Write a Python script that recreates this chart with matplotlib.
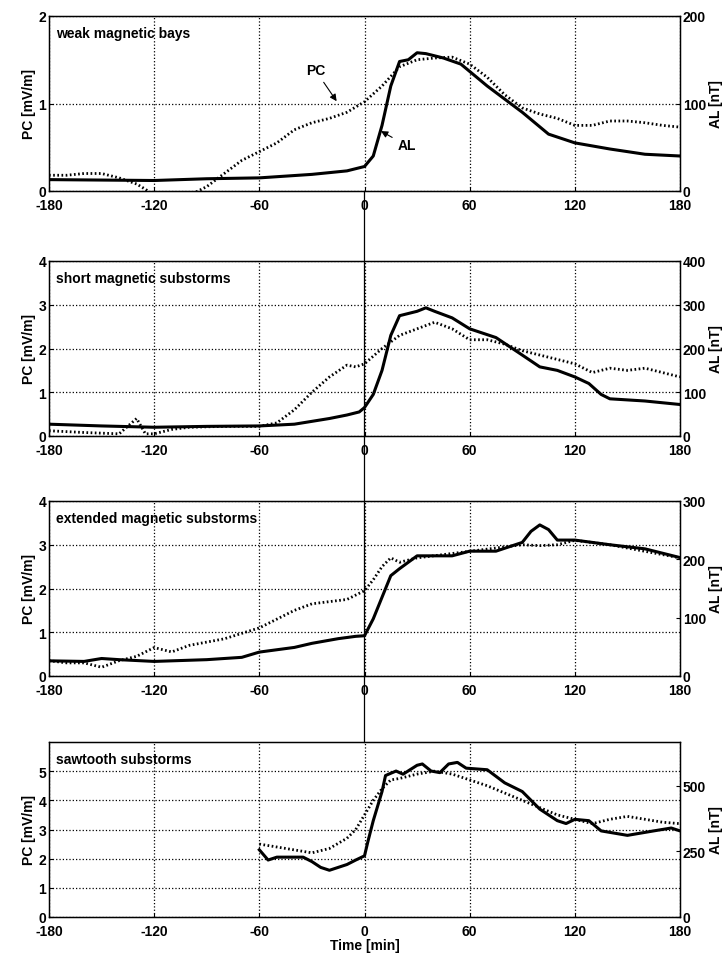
import matplotlib
matplotlib.use("Agg")
import matplotlib.pyplot as plt
from matplotlib.lines import Line2D
import numpy as np

plt.rcParams['font.family'] = ['Liberation Sans Narrow', 'Liberation Sans', 'DejaVu Sans']
plt.rcParams['font.weight'] = 'bold'
plt.rcParams['axes.unicode_minus'] = False

titles = ["weak magnetic bays", "short magnetic substorms",
          "extended magnetic substorms", "sawtooth substorms"]

# panel 1
pc1_t = [-180,-170,-160,-150,-140,-130,-125,-120,-110,-100,-90,-80,-70,-60,-50,-40,-30,-20,-10,0,10,20,30,40,50,60,70,80,90,100,110,120,130,140,150,160,170,180]
pc1_v = [0.18,0.18,0.2,0.2,0.15,0.08,0.02,-0.05,-0.1,-0.05,0.05,0.2,0.35,0.45,0.55,0.7,0.78,0.83,0.9,1.02,1.2,1.42,1.5,1.52,1.53,1.45,1.3,1.1,0.95,0.88,0.83,0.75,0.75,0.8,0.8,0.78,0.75,0.73]
al1_t = [-180,-120,-90,-60,-30,-10,0,5,10,15,20,25,30,35,45,55,70,90,105,120,140,160,180]
al1_v = [13,12,14,15,19,23,28,40,75,120,148,150,158,157,152,145,120,90,65,55,48,42,40]

# panel 2
pc2_t = [-180,-160,-140,-130,-125,-120,-110,-100,-80,-60,-50,-40,-30,-20,-10,-5,0,10,20,30,40,50,60,70,80,90,100,110,120,130,140,150,160,170,180]
pc2_v = [0.12,0.08,0.05,0.4,0.05,0.05,0.15,0.2,0.22,0.22,0.3,0.6,1.0,1.35,1.62,1.58,1.65,2.0,2.3,2.45,2.6,2.45,2.2,2.2,2.1,1.95,1.85,1.75,1.65,1.45,1.55,1.5,1.55,1.45,1.35]
al2_t = [-180,-150,-120,-90,-60,-40,-20,-10,-3,0,5,10,15,20,30,35,40,50,60,75,90,100,110,120,128,135,140,160,180]
al2_v = [27,23,20,22,23,27,40,48,55,65,95,150,230,275,285,293,285,270,245,225,185,158,150,135,120,95,85,80,72]

# panel 3
pc3_t = [-180,-170,-160,-150,-140,-130,-120,-110,-100,-80,-60,-50,-40,-30,-20,-10,0,5,10,15,20,30,40,60,80,90,100,110,120,140,160,180]
pc3_v = [0.35,0.3,0.3,0.2,0.35,0.45,0.65,0.55,0.7,0.85,1.1,1.3,1.5,1.65,1.7,1.75,1.95,2.2,2.5,2.7,2.6,2.7,2.75,2.85,2.95,3.0,2.98,3.0,3.1,3.0,2.85,2.7]
al3_t = [-180,-160,-150,-140,-120,-90,-70,-60,-40,-30,-15,-5,0,5,10,15,20,30,50,60,75,90,95,100,105,110,120,140,160,180]
al3_v = [26,25,30,28,25,28,32,41,49,56,64,68,69,98,135,172,184,206,206,214,214,229,248,259,251,233,233,225,218,203]

# panel 4
pc4_t = [-60,-50,-40,-30,-20,-10,-5,0,5,10,15,20,30,40,50,60,70,80,90,100,110,120,130,140,150,160,170,180]
pc4_v = [2.5,2.4,2.3,2.2,2.35,2.7,3.0,3.5,4.0,4.4,4.7,4.75,4.9,5.0,4.9,4.7,4.5,4.25,4.0,3.75,3.5,3.35,3.2,3.35,3.45,3.35,3.25,3.2]
al4_t = [-60,-55,-50,-40,-35,-30,-25,-20,-10,-5,0,2,5,10,12,18,22,30,33,38,43,48,53,58,70,80,90,100,110,115,120,128,135,150,165,175,180]
al4_v = [256,217,228,228,228,211,189,178,200,217,233,289,367,478,539,556,544,578,583,556,550,583,589,567,561,511,478,411,367,356,372,367,328,311,328,339,328]

pc_t = [pc1_t, pc2_t, pc3_t, pc4_t]
pc_v = [pc1_v, pc2_v, pc3_v, pc4_v]
al_t = [al1_t, al2_t, al3_t, al4_t]
al_v = [al1_v, al2_v, al3_v, al4_v]
pc_lim = [2, 4, 4, 6]
pc_ticks = [[0, 1, 2], [0, 1, 2, 3, 4], [0, 1, 2, 3, 4], [0, 1, 2, 3, 4, 5]]
al_lim = [200, 400, 300, 6000/9]
al_ticks = [[0, 100, 200], [0, 100, 200, 300, 400], [0, 100, 200, 300], [0, 250, 500]]
xticks = [-180, -120, -60, 0, 60, 120, 180]

fig = plt.figure(figsize=(7.25, 9.54), dpi=100)
W, H = 725, 954
tops = [17, 262, 502, 743]
ph = 175
axes = []
for i in range(4):
    ax = fig.add_axes([49/W, 1-(tops[i]+ph)/H, 631/W, ph/H])
    axes.append(ax)
    ax.plot(pc_t[i], pc_v[i], color='black', lw=2.0, ls=(0, (0.6, 0.9)))
    ax.set_xlim(-180, 180)
    ax.set_ylim(0, pc_lim[i])
    ax.set_xticks(xticks)
    ax.set_yticks(pc_ticks[i])
    ax.grid(True, color='black', ls=':', lw=0.9)
    ax.set_ylabel("PC [mV/m]", fontsize=10, fontweight='bold', labelpad=2)
    ax.tick_params(axis='y', labelsize=10, length=3, direction='in', pad=2)
    ax.tick_params(axis='x', labelsize=10, length=3, direction='in', pad=5)
    for lab in ax.get_xticklabels() + ax.get_yticklabels():
        lab.set_fontweight('bold')
    ax.text(-176, pc_lim[i]*0.9, titles[i], fontsize=10, fontweight='bold', va='center')
    ax2 = ax.twinx()
    ax2.plot(al_t[i], al_v[i], color='black', lw=2.2)
    ax2.set_ylim(0, al_lim[i])
    ax2.set_yticks(al_ticks[i])
    ax2.set_ylabel("AL [nT]", fontsize=10, fontweight='bold', rotation=90, labelpad=2)
    ax2.tick_params(labelsize=10, length=3, direction='in', pad=2)
    for lab in ax2.get_yticklabels():
        lab.set_fontweight('bold')
    for sp in ax.spines.values():
        sp.set_linewidth(1.0)
    if i == 0:
        ax.annotate("PC", xy=(-15, 1.0), xytext=(-28, 1.38), fontsize=10, fontweight='bold',
                    ha='center', va='center', arrowprops=dict(arrowstyle='-|>', color='black', lw=0.8))
        ax2.annotate("AL", xy=(8, 70), xytext=(24, 52), fontsize=10, fontweight='bold',
                     ha='center', va='center', arrowprops=dict(arrowstyle='-|>', color='black', lw=0.8))

axes[3].set_xlabel("Time [min]", fontsize=10, fontweight='bold', labelpad=0)

# vertical line at t=0 across panels
fig.canvas.draw()
x0 = fig.transFigure.inverted().transform(axes[0].transData.transform((0, 0)))[0]
fig.add_artist(Line2D([x0, x0], [1-(tops[0]+ph)/H, 1-tops[3]/H], transform=fig.transFigure,
                      color='black', lw=0.9))

fig.savefig("out.png", dpi=100)
